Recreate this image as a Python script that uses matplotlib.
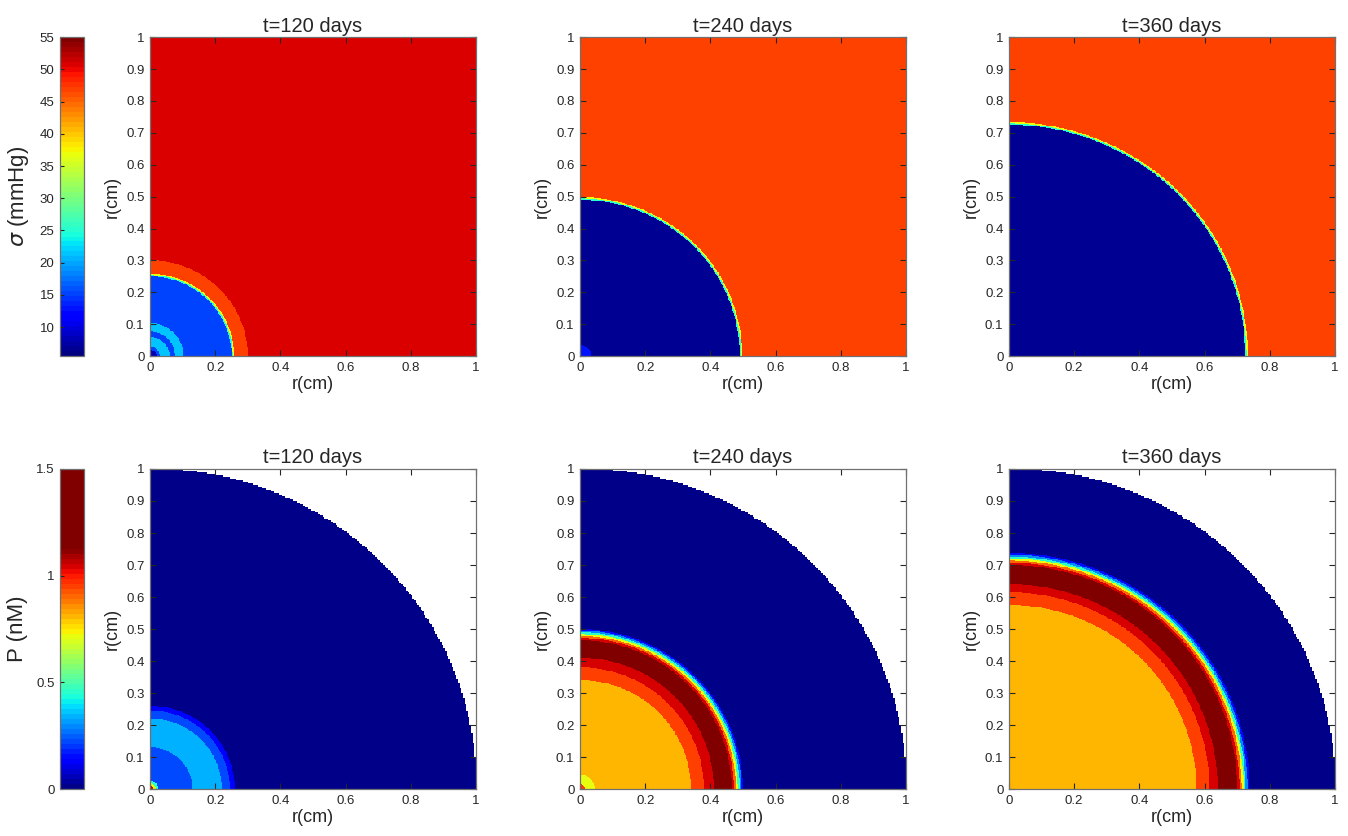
import numpy as np
import matplotlib
matplotlib.use("Agg")
import matplotlib.pyplot as plt
from matplotlib.colors import ListedColormap
from matplotlib.ticker import FuncFormatter

plt.rcParams["font.family"] = ["Liberation Sans", "DejaVu Sans"]

# ring outer radii (cm) and field values inside each ring (last value = outside)
times = ["t=120 days", "t=240 days", "t=360 days"]

sigma_edges = [
    [0.02, 0.03, 0.06, 0.077, 0.103, 0.25, 0.254, 0.258, 0.30],
    [0.035, 0.49, 0.494, 0.498],
    [0.725, 0.729, 0.733],
]
sigma_values = [
    [8.5, 15.5, 21, 15.5, 21, 15.5, 25, 37, 46.8, 51],
    [13, 6.5, 25, 37, 46.8],
    [6.5, 25, 37, 46.8],
]

p_edges = [
    [0.01, 0.017, 0.026, 0.13, 0.22, 0.245, 0.26],
    [0.015, 0.045, 0.34, 0.38, 0.41, 0.465, 0.472, 0.478, 0.484, 0.49, 0.495, 0.50],
    [0.575, 0.615, 0.64, 0.70, 0.707, 0.714, 0.72, 0.726, 0.732, 0.738],
]
p_values = [
    [1.04, 0.72, 0.45, 0.23, 0.35, 0.23, 0.13, 0.0],
    [0.95, 0.72, 0.81, 0.95, 1.04, 1.3, 1.04, 0.9, 0.72, 0.45, 0.3, 0.15, 0.0],
    [0.81, 0.95, 1.04, 1.3, 1.04, 0.9, 0.72, 0.45, 0.3, 0.15, 0.0],
]

sigma_lim = (5.5, 55)
p_lim = (0, 1.5)
p_jet_top = 1.13  # above this the P colormap stays dark red

TXT = "#262626"

# grid
n = 400
x = np.linspace(0, 1, n + 1)
xc = 0.5 * (x[:-1] + x[1:])
X, Y = np.meshgrid(xc, xc)
R = np.hypot(X, Y)
# coarse domain mask for the P field
Xm = np.floor(X / 0.005) * 0.005
Ym = np.floor(Y / 0.005) * 0.005
outside = np.hypot(Xm, Ym) > 1.0

jet = plt.get_cmap("jet")
cmap_sigma = plt.get_cmap("jet", 64)
lv = (np.arange(64) + 0.5) / 64 * p_lim[1]
cmap_p = ListedColormap([jet(min(v / p_jet_top, 1.0)) for v in lv])


def ring_field(edges, values):
    return np.asarray(values, dtype=float)[np.digitize(R, edges)]


def style_axes(ax):
    ax.set_xlim(0, 1)
    ax.set_ylim(0, 1)
    ax.set_xticks(np.arange(0, 1.01, 0.2))
    ax.set_yticks(np.arange(0, 1.01, 0.1))
    fmt = FuncFormatter(lambda v, p: "%g" % round(v, 2))
    ax.xaxis.set_major_formatter(fmt)
    ax.yaxis.set_major_formatter(fmt)
    ax.tick_params(direction="in", length=4, width=0.8, labelsize=9.5,
                   colors=TXT, top=True, right=True, pad=4)
    for s in ax.spines.values():
        s.set_color("#707070")
        s.set_linewidth(0.9)
    ax.set_xlabel("r(cm)", fontsize=13, color=TXT, labelpad=2)
    ax.set_ylabel("r(cm)", fontsize=13, color=TXT, labelpad=4)


fig = plt.figure(figsize=(13.48, 8.36), dpi=100)

lefts = [0.1113, 0.4303, 0.7485]
w = 0.2418
rows = [(0.574, 0.3816), (0.0562, 0.3828)]

for i in range(3):
    ax = fig.add_axes([lefts[i], rows[0][0], w, rows[0][1]])
    Z = ring_field(sigma_edges[i], sigma_values[i])
    mesh_s = ax.pcolormesh(x, x, Z, cmap=cmap_sigma, vmin=sigma_lim[0],
                           vmax=sigma_lim[1], shading="flat", rasterized=True)
    style_axes(ax)
    ax.set_title(times[i], fontsize=14.5, color=TXT, pad=4)

    ax = fig.add_axes([lefts[i], rows[1][0], w, rows[1][1]])
    Z = np.ma.masked_where(outside, ring_field(p_edges[i], p_values[i]))
    mesh_p = ax.pcolormesh(x, x, Z, cmap=cmap_p, vmin=p_lim[0],
                           vmax=p_lim[1], shading="flat", rasterized=True)
    style_axes(ax)
    ax.set_title(times[i], fontsize=14.5, color=TXT, pad=4)

# colorbars on the left
cax1 = fig.add_axes([0.0445, rows[0][0], 0.0175, rows[0][1]])
cb1 = fig.colorbar(mesh_s, cax=cax1, ticks=np.arange(10, 56, 5))
cax2 = fig.add_axes([0.0445, rows[1][0], 0.0175, rows[1][1]])
cb2 = fig.colorbar(mesh_p, cax=cax2, ticks=[0, 0.5, 1, 1.5])
cb2.ax.yaxis.set_major_formatter(FuncFormatter(lambda v, p: "%g" % v))

for cb, label in [(cb1, r"$\sigma$ (mmHg)"), (cb2, "P (nM)")]:
    cb.ax.yaxis.set_ticks_position("left")
    cb.ax.yaxis.set_label_position("left")
    cb.ax.tick_params(direction="in", length=3, width=0.8, labelsize=9.5,
                      colors=TXT, pad=4)
    cb.outline.set_edgecolor("#707070")
    cb.outline.set_linewidth(0.9)
    cb.set_label(label, fontsize=16, color=TXT, labelpad=6)

fig.savefig("out.png", dpi=100)
